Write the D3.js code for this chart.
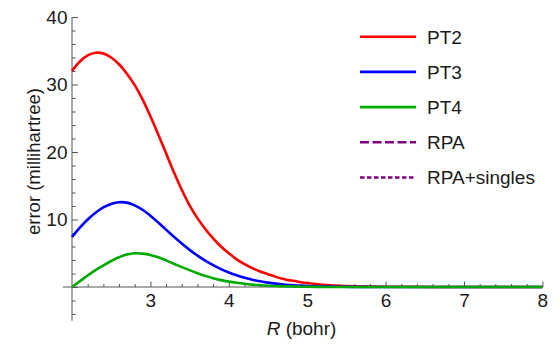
<!DOCTYPE html>
<html>
<head>
<meta charset="utf-8">
<script src="https://cdn.jsdelivr.net/npm/d3@7"></script>
<style>
  body { margin: 0; background: #fff; }
  svg text { font-family: "Liberation Sans", Arial, Helvetica, sans-serif; fill: #1a1a1a; }
</style>
</head>
<body>
<div class="chart"></div>
<script>
// bond length grid (bohr)
var R = [2.0, 2.1, 2.2, 2.3, 2.4, 2.5, 2.6, 2.7, 2.8, 2.9,
         3.0, 3.1, 3.2, 3.3, 3.4, 3.5, 3.6, 3.7, 3.8, 3.9,
         4.0, 4.1, 4.2, 4.3, 4.4, 4.5, 4.6, 4.7, 4.8, 4.9,
         5.0, 5.2, 5.4, 5.6, 6.0, 7.0, 8.0];

// errors in millihartree
var pt2 = [32.0, 33.4, 34.3, 34.7, 34.6, 34.0, 33.0, 31.6, 29.9, 27.8,
           25.3, 22.6, 19.8, 17.0, 14.4, 12.1, 10.2, 8.6, 7.2, 6.0,
           5.0, 4.1, 3.4, 2.8, 2.3, 1.9, 1.5, 1.2, 0.95, 0.75,
           0.58, 0.33, 0.18, 0.1, 0.03, 0, 0];
var pt3 = [7.4, 8.8, 10.0, 11.0, 11.8, 12.3, 12.55, 12.5, 12.1, 11.45,
           10.55, 9.55, 8.5, 7.45, 6.45, 5.5, 4.65, 3.9, 3.23, 2.65,
           2.15, 1.73, 1.38, 1.08, 0.84, 0.65, 0.5, 0.38, 0.28, 0.21,
           0.15, 0.08, 0.04, 0.02, 0, 0, 0];
var pt4 = [0, 0.85, 1.7, 2.5, 3.2, 3.85, 4.4, 4.8, 5.0, 4.95,
           4.75, 4.4, 3.95, 3.45, 2.95, 2.5, 2.05, 1.65, 1.3, 1.02,
           0.8, 0.62, 0.47, 0.35, 0.26, 0.19, 0.14, 0.1, 0.07, 0.05,
           0.03, 0.01, 0, 0, 0, 0, 0];

var xTicks = [3, 4, 5, 6, 7, 8];
var yTicks = [0, 10, 20, 30, 40];
var legendNames = ["PT2", "PT3", "PT4", "RPA", "RPA+singles"];
var legendColors = ["#ff0000", "#0000ff", "#00aa00", "#800080", "#800080"];
var legendDash = [null, null, null, "9,3.5", "4.5,2.5"];

var width = 559, height = 345;

var x = d3.scaleLinear().domain([2, 8]).range([72, 542.4]);
var y = d3.scaleLinear().domain([0, 40]).range([287, 17]);

var svg = d3.select(".chart").append("svg")
    .attr("width", width)
    .attr("height", height);

var axisColor = "#555";

// minor ticks
var xMinor = d3.range(2.2, 8.01, 0.2).filter(function(v) { return Math.abs(v - Math.round(v)) > 0.01; });
var yMinor = d3.range(-4, 40.1, 2).filter(function(v) { return v % 10 !== 0; });

svg.append("g")
    .attr("transform", "translate(0," + y(0) + ")")
    .call(d3.axisBottom(x).tickValues(xMinor).tickSizeInner(-3).tickSizeOuter(0).tickFormat(""))
    .call(function(g) { g.select(".domain").remove(); g.selectAll("line").attr("stroke", axisColor); });

svg.append("g")
    .attr("transform", "translate(" + x(2) + ",0)")
    .call(d3.axisLeft(y).tickValues(yMinor).tickSizeInner(-3.5).tickSizeOuter(0).tickFormat(""))
    .call(function(g) { g.select(".domain").remove(); g.selectAll("line").attr("stroke", axisColor); });

// major ticks + labels
svg.append("g")
    .attr("transform", "translate(0," + y(0) + ")")
    .call(d3.axisBottom(x).tickValues(xTicks).tickSizeInner(-5.5).tickSizeOuter(0).tickPadding(6.3).tickFormat(d3.format("d")))
    .call(function(g) {
      g.select(".domain").remove();
      g.selectAll("line").attr("stroke", axisColor);
      g.selectAll("text").attr("font-size", 19).attr("font-family", null).attr("fill", "#1a1a1a");
    });

svg.append("g")
    .attr("transform", "translate(" + x(2) + ",0)")
    .call(d3.axisLeft(y).tickValues(yTicks).tickSizeInner(-6).tickSizeOuter(0).tickPadding(4.5)
          .tickFormat(function(d) { return d === 0 ? "" : d; }))
    .call(function(g) {
      g.select(".domain").remove();
      g.selectAll("line").attr("stroke", axisColor);
      g.selectAll("text").attr("font-size", 19).attr("font-family", null).attr("fill", "#1a1a1a");
    });

// axis lines
svg.append("line")
    .attr("x1", x(1.885)).attr("x2", x(8))
    .attr("y1", y(0)).attr("y2", y(0))
    .attr("stroke", axisColor).attr("stroke-width", 1);
svg.append("line")
    .attr("x1", x(2)).attr("x2", x(2))
    .attr("y1", y(-5)).attr("y2", y(40))
    .attr("stroke", axisColor).attr("stroke-width", 1);

// curves
var series = [pt2, pt3, pt4];
var line = d3.line()
    .x(function(d) { return x(d[0]); })
    .y(function(d) { return y(d[1]); })
    .curve(d3.curveCatmullRom.alpha(0.5));

series.forEach(function(vals, i) {
  svg.append("path")
      .datum(R.map(function(r, j) { return [r, vals[j]]; }))
      .attr("fill", "none")
      .attr("stroke", legendColors[i])
      .attr("stroke-width", 2.6)
      .attr("stroke-linejoin", "round")
      .attr("d", line);
});

// axis titles
var xt = svg.append("text")
    .attr("x", 301.5).attr("y", 335)
    .attr("text-anchor", "middle")
    .attr("font-size", 19);
xt.append("tspan").attr("font-style", "italic").text("R");
xt.append("tspan").text(" (bohr)");

svg.append("text")
    .attr("transform", "translate(40,161.5) rotate(-90)")
    .attr("text-anchor", "middle")
    .attr("font-size", 18.5)
    .text("error (millihartree)");

// legend
var legend = svg.selectAll(".legend")
    .data(legendNames)
  .enter().append("g")
    .attr("class", "legend")
    .attr("transform", function(d, i) { return "translate(0," + (36.7 + i * 35.2) + ")"; });

legend.append("line")
    .attr("x1", 360).attr("x2", 416)
    .attr("stroke", function(d, i) { return legendColors[i]; })
    .attr("stroke-width", 2.6)
    .attr("stroke-dasharray", function(d, i) { return legendDash[i]; });

legend.append("text")
    .attr("x", 427)
    .attr("y", 6.8)
    .attr("font-size", 19)
    .text(function(d) { return d; });
</script>
</body>
</html>
